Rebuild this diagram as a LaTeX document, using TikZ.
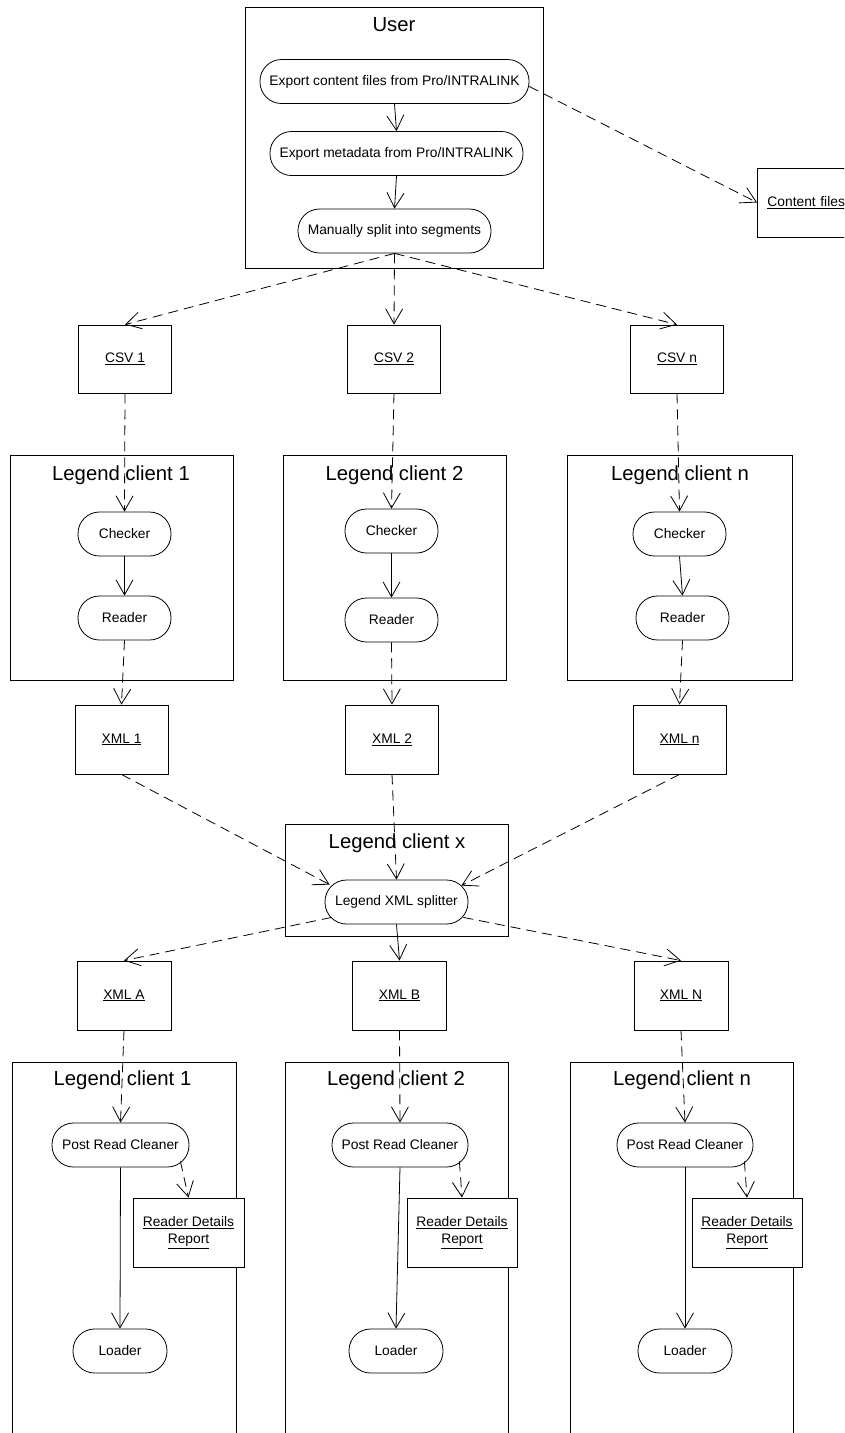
\documentclass[tikz,border=0pt]{standalone}
\usepackage{fontspec}
\setmainfont{Liberation Sans}
\usetikzlibrary{arrows.meta}
\begin{document}
\begin{tikzpicture}[x=1pt,y=-1pt,
  every node/.style={font=\fontsize{13.8}{17}\selectfont},
  box/.style={draw, line width=0.9pt, fill=white, inner sep=0pt},
  act/.style={draw, line width=0.8pt, fill=white, rounded corners=21.5pt, inner sep=0pt, minimum height=44pt},
  ttl/.style={font=\fontsize{20.3}{24}\selectfont, inner sep=0pt},
  doc/.style={draw, line width=0.9pt, fill=white, inner sep=0pt, minimum width=94pt, minimum height=69pt, align=center},
  flow/.style={line width=0.8pt, -{Straight Barb[length=15pt,width=17pt,line width=0.8pt]}},
  dflow/.style={flow, dash pattern=on 10pt off 6pt},
]
\useasboundingbox (0,0) rectangle (844,1433);
\clip (0,0) rectangle (844,1433);
\fill[white] (0,0) rectangle (844,1433);

% ---------- User ----------
\node[box, minimum width=298pt, minimum height=261pt] (user) at (394,137.5) {};
\node[ttl] (usert) at (394,25) {User};
\node[act, minimum width=269pt] (exp1) at (394.5,81.5) {Export content files from Pro/INTRALINK};
\node[act, minimum width=253pt] (exp2) at (396.5,153.5) {Export metadata from Pro/INTRALINK};
\node[act, minimum width=193pt] (split) at (394.5,231) {Manually split into segments};
\node[box, minimum height=69pt, anchor=west, text width=83pt, inner xsep=10pt, align=left] (cf) at (757,202.5) {\underline{Content files}};

% ---------- CSV ----------
\node[doc, minimum width=93pt, minimum height=68pt] (csv1) at (125,359) {\underline{CSV 1}};
\node[doc, minimum width=93pt, minimum height=68pt] (csv2) at (394,359) {\underline{CSV 2}};
\node[doc, minimum width=93pt, minimum height=68pt] (csvn) at (677,359) {\underline{CSV n}};

% ---------- top Legend clients ----------
\node[box, minimum width=223pt, minimum height=225pt] (lc1) at (121.5,567.5) {};
\node[box, minimum width=223pt, minimum height=225pt] (lc2) at (394.5,567.5) {};
\node[box, minimum width=225pt, minimum height=225pt] (lcn) at (679.5,567.5) {};
\node[ttl] (lc1t) at (121,475) {Legend client 1};
\node[ttl] (lc2t) at (394.5,475) {Legend client 2};
\node[ttl] (lcnt) at (680,475) {Legend client n};
\node[act, minimum width=93pt] (ch1) at (124.5,534) {Checker};
\node[act, minimum width=93pt] (rd1) at (124.5,618) {Reader};
\node[act, minimum width=93pt] (ch2) at (391.5,531) {Checker};
\node[act, minimum width=93pt] (rd2) at (391.5,620) {Reader};
\node[act, minimum width=93pt] (chn) at (679.5,534) {Checker};
\node[act, minimum width=93pt] (rdn) at (682.5,618) {Reader};

% ---------- XML ----------
\node[doc, minimum width=93pt] (xml1) at (121.5,739.5) {\underline{XML 1}};
\node[doc, minimum width=93pt] (xml2) at (392,739.5) {\underline{XML 2}};
\node[doc, minimum width=93pt] (xmln) at (679.5,739.5) {\underline{XML n}};

% ---------- Legend client x ----------
\node[box, minimum width=223pt, minimum height=112pt] (lcx) at (396.5,880) {};
\node[ttl] (lcxt) at (397,843) {Legend client x};
\node[act, minimum width=143pt] (splt) at (396.5,902) {Legend XML splitter};

\node[doc] (xmla) at (124,995.5) {\underline{XML A}};
\node[doc] (xmlb) at (399.5,995.5) {\underline{XML B}};
\node[doc] (xmlN) at (681,995.5) {\underline{XML N}};

% ---------- bottom Legend clients ----------
\node[box, minimum width=224pt, minimum height=400pt] (lb1) at (124,1262) {};
\node[box, minimum width=223pt, minimum height=400pt] (lb2) at (396.5,1262) {};
\node[box, minimum width=223pt, minimum height=400pt] (lbn) at (681.5,1262) {};
\node[ttl] (lb1t) at (122.5,1080) {Legend client 1};
\node[ttl] (lb2t) at (396,1080) {Legend client 2};
\node[ttl] (lbnt) at (682,1080) {Legend client n};
\node[act, minimum width=137pt] (pc1) at (120.5,1145) {Post Read Cleaner};
\node[act, minimum width=136pt] (pc2) at (400,1145) {Post Read Cleaner};
\node[act, minimum width=136pt] (pcn) at (685,1145) {Post Read Cleaner};
\node[doc, minimum width=111pt] (rep1) at (188.5,1232.5) {\underline{Reader Details}\\\underline{Report}};
\node[doc, minimum width=110pt] (rep2) at (462,1232.5) {\underline{Reader Details}\\\underline{Report}};
\node[doc, minimum width=110pt] (repn) at (747,1232.5) {\underline{Reader Details}\\\underline{Report}};
\node[act, minimum width=94pt] (ld1) at (120,1351) {Loader};
\node[act, minimum width=94pt] (ld2) at (396,1351) {Loader};
\node[act, minimum width=94pt] (ldn) at (685,1351) {Loader};

% ---------- connectors ----------
\draw[flow] (exp1.south) -- (exp2.north);
\draw[flow] (exp2.south) -- (split.north);
\draw[dflow] ([yshift=-5pt]exp1.east) -- (cf.west);
\draw[dflow] (split.south) -- (csv1.north);
\draw[dflow] (split.south) -- (csv2.north);
\draw[dflow] (split.south) -- (csvn.north);

\draw[dflow] (csv1.south) -- (ch1.north);
\draw[dflow] (csv2.south) -- (ch2.north);
\draw[dflow] (csvn.south) -- (chn.north);
\draw[flow] (ch1.south) -- (rd1.north);
\draw[flow] (ch2.south) -- (rd2.north);
\draw[flow] (chn.south) -- (rdn.north);
\draw[dflow] (rd1.south) -- (xml1.north);
\draw[dflow] (rd2.south) -- (xml2.north);
\draw[dflow] (rdn.south) -- (xmln.north);

\draw[dflow] (xml1.south) -- ([xshift=5pt,yshift=-5pt]splt.north west);
\draw[dflow] (xml2.south) -- (splt.north);
\draw[dflow] (xmln.south) -- ([xshift=-7pt,yshift=-6pt]splt.north east);
\draw[dflow] ([xshift=7pt,yshift=7pt]splt.south west) -- (xmla.north);
\draw[flow] (splt.south) -- (xmlb.north);
\draw[dflow] ([xshift=-5pt,yshift=7pt]splt.south east) -- (xmlN.north);

\draw[dflow] (xmla.south) -- (pc1.north);
\draw[dflow] (xmlb.south) -- (pc2.north);
\draw[dflow] (xmlN.south) -- (pcn.north);
\draw[dflow] ([xshift=-9pt,yshift=6pt]pc1.south east) -- (rep1.north);
\draw[dflow] ([xshift=-9pt,yshift=6pt]pc2.south east) -- (rep2.north);
\draw[dflow] ([xshift=-9pt,yshift=6pt]pcn.south east) -- (repn.north);
\draw[flow] (pc1.south) -- (ld1.north);
\draw[flow] (pc2.south) -- (ld2.north);
\draw[flow] (pcn.south) -- (ldn.north);
\end{tikzpicture}
\end{document}
